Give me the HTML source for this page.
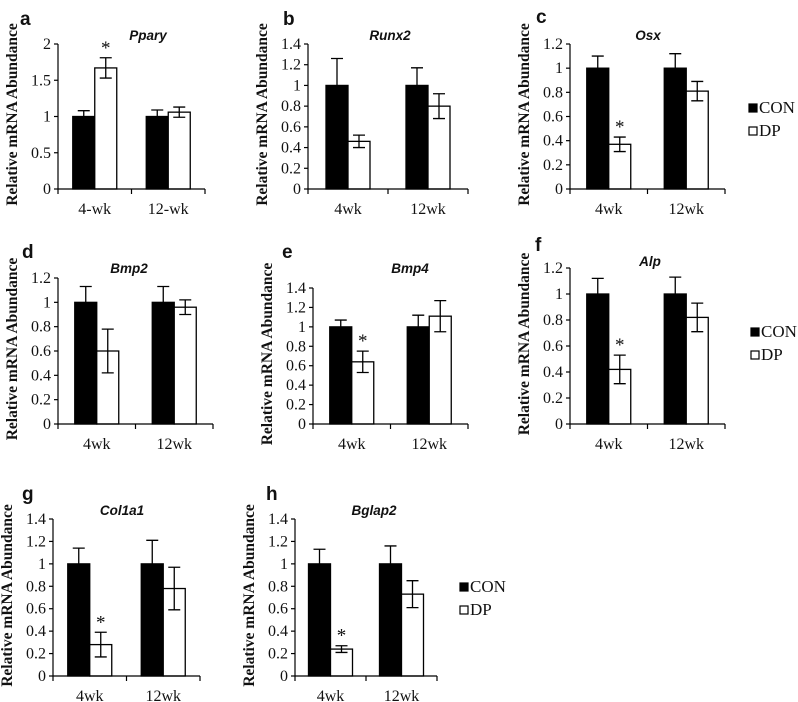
<!DOCTYPE html>
<html><head><meta charset="utf-8"><style>
body{margin:0;background:#fff;}
svg{display:block;}
.tk{font-family:"Liberation Serif",serif;font-size:16px;fill:#111;}
.st{font-family:"Liberation Serif",serif;font-size:19px;fill:#111;}
.yl{font-family:"Liberation Serif",serif;font-size:15.5px;font-weight:bold;fill:#111;}
.ti{font-family:"Liberation Sans",sans-serif;font-size:13.5px;font-weight:bold;font-style:italic;fill:#111;}
.pl{font-family:"Liberation Sans",sans-serif;font-size:19px;font-weight:bold;fill:#111;}
.lg{font-family:"Liberation Serif",serif;font-size:17px;fill:#111;}
</style></head><body>
<svg id="fig" width="798" height="702" viewBox="0 0 798 702" xmlns="http://www.w3.org/2000/svg"></svg>
<script>
const categories = ['4wk','12wk'];
const categoriesA = ['4-wk','12-wk'];
const pparyCon = [1.0, 1.0], pparyDp = [1.67, 1.06], pparyConErr = [0.08, 0.09], pparyDpErr = [0.14, 0.07];
const runx2Con = [1.0, 1.0], runx2Dp = [0.46, 0.80], runx2ConErr = [0.26, 0.17], runx2DpErr = [0.06, 0.12];
const osxCon = [1.0, 1.0], osxDp = [0.37, 0.81], osxConErr = [0.10, 0.12], osxDpErr = [0.06, 0.08];
const bmp2Con = [1.0, 1.0], bmp2Dp = [0.60, 0.96], bmp2ConErr = [0.13, 0.13], bmp2DpErr = [0.18, 0.06];
const bmp4Con = [1.0, 1.0], bmp4Dp = [0.64, 1.11], bmp4ConErr = [0.07, 0.12], bmp4DpErr = [0.11, 0.16];
const alpCon = [1.0, 1.0], alpDp = [0.42, 0.82], alpConErr = [0.12, 0.13], alpDpErr = [0.11, 0.11];
const col1a1Con = [1.0, 1.0], col1a1Dp = [0.28, 0.78], col1a1ConErr = [0.14, 0.21], col1a1DpErr = [0.11, 0.19];
const bglap2Con = [1.0, 1.0], bglap2Dp = [0.24, 0.73], bglap2ConErr = [0.13, 0.16], bglap2DpErr = [0.03, 0.12];
const ticksA = ['0','0.5','1','1.5','2'];
const ticks14 = ['0','0.2','0.4','0.6','0.8','1','1.2','1.4'];
const ticks12 = ['0','0.2','0.4','0.6','0.8','1','1.2'];
const legendLabels = ['CON','DP'];

const NS='http://www.w3.org/2000/svg';
const svg=document.getElementById('fig');
function mk(tag,attrs,parent){const e=document.createElementNS(NS,tag);for(const k in attrs)e.setAttribute(k,attrs[k]);(parent||svg).appendChild(e);return e;}

const panels=[
 {id:'a',gene:'Ppary',con:pparyCon,dp:pparyDp,ce:pparyConErr,de:pparyDpErr,cats:categoriesA,ticks:ticksA,max:2,x0:58,x1:205,y0:189,yt:44,lx:20,ly:25,tx:148,ty:40,star:[0]},
 {id:'b',gene:'Runx2',con:runx2Con,dp:runx2Dp,ce:runx2ConErr,de:runx2DpErr,cats:categories,ticks:ticks14,max:1.4,x0:308,x1:468,y0:189,yt:44,lx:283,ly:25,tx:390,ty:40,star:[]},
 {id:'c',gene:'Osx',con:osxCon,dp:osxDp,ce:osxConErr,de:osxDpErr,cats:categories,ticks:ticks12,max:1.2,x0:570,x1:725,y0:189,yt:44,lx:536,ly:23,tx:648,ty:40,star:[0]},
 {id:'d',gene:'Bmp2',con:bmp2Con,dp:bmp2Dp,ce:bmp2ConErr,de:bmp2DpErr,cats:categories,ticks:ticks12,max:1.2,x0:58,x1:213,y0:424,yt:278,lx:22,ly:258,tx:129,ty:273,star:[]},
 {id:'e',gene:'Bmp4',con:bmp4Con,dp:bmp4Dp,ce:bmp4ConErr,de:bmp4DpErr,cats:categories,ticks:ticks14,max:1.4,x0:313,x1:468,y0:424,yt:288,lx:282,ly:258,tx:410,ty:273,star:[0]},
 {id:'f',gene:'Alp',con:alpCon,dp:alpDp,ce:alpConErr,de:alpDpErr,cats:categories,ticks:ticks12,max:1.2,x0:570,x1:725,y0:424,yt:268,lx:535,ly:251,tx:650,ty:266,star:[0]},
 {id:'g',gene:'Col1a1',con:col1a1Con,dp:col1a1Dp,ce:col1a1ConErr,de:col1a1DpErr,cats:categories,ticks:ticks14,max:1.4,x0:53,x1:200,y0:676,yt:519,lx:22,ly:500,tx:122,ty:515,star:[0]},
 {id:'h',gene:'Bglap2',con:bglap2Con,dp:bglap2Dp,ce:bglap2ConErr,de:bglap2DpErr,cats:categories,ticks:ticks14,max:1.4,x0:295,x1:437,y0:676,yt:519,lx:266,ly:500,tx:374,ty:515,star:[0]}
];

panels.forEach(p=>{
 const g=mk('g',{});
 
 
 const ys=v=>p.y0-(v/p.max)*(p.y0-p.yt);
 const gw=(p.x1-p.x0)/p.cats.length;
 const bw=22;
 const L=mk('text',{x:p.lx,y:p.ly,class:'pl'},g);L.textContent=p.id;
 
 
 const T=mk('text',{x:p.tx,y:p.ty,class:'ti','text-anchor':'middle'},g);T.textContent=p.gene;
 
 
 const cy=(p.y0+p.yt)/2-2, cx=p.x0-41;
 const Y=mk('text',{x:cx,y:cy,class:'yl','text-anchor':'middle',transform:'rotate(-90 '+cx+' '+cy+')'},g);Y.textContent='Relative mRNA Abundance';
 
 
 p.cats.forEach((c,i)=>{
  const cxg=p.x0+gw*(i+0.5);
  [[p.con[i],p.ce[i],'#000',cxg-bw],[p.dp[i],p.de[i],'#fff',cxg]].forEach((s,k)=>{
   const r=mk('rect',{x:s[3],y:ys(s[0]),width:bw,height:p.y0-ys(s[0]),fill:s[2],stroke:'#000','stroke-width':1.3},g);
   
   
   const ex=s[3]+bw/2, yh=ys(s[0]+s[1]), yl=ys(s[0]-s[1]);
   const e=mk('path',{d:`M${ex},${yh}V${yl}M${ex-6},${yh}H${ex+6}M${ex-6},${yl}H${ex+6}`,stroke:'#000','stroke-width':1.3,fill:'none'},g);
   
   
   if(k===1 && p.star.includes(i)){
    const st=mk('text',{x:ex,y:yh-4,class:'st','text-anchor':'middle'},g);st.textContent='*';
    
    
   }
  });
  const cl=mk('text',{x:cxg,y:p.y0+25,class:'tk','text-anchor':'middle'},g);cl.textContent=c;
  
  
 });
 const ax=mk('path',{d:`M${p.x0},${p.yt}V${p.y0}H${p.x1}`,stroke:'#000','stroke-width':1.2,fill:'none'},g);
 
 
 for(let i=0;i<=p.cats.length;i++){
  const tx=p.x0+gw*i;
  mk('line',{x1:tx,x2:tx,y1:p.y0,y2:p.y0+5,stroke:'#000','stroke-width':1.2},g);
 }
 p.ticks.forEach(t=>{
  const yy=ys(parseFloat(t));
  mk('line',{x1:p.x0-4,x2:p.x0,y1:yy,y2:yy,stroke:'#000','stroke-width':1.2},g);
  const tl=mk('text',{x:p.x0-7,y:yy+5,class:'tk','text-anchor':'end'},g);tl.textContent=t;
  
  
 });
});

[[749,104],[751,328],[460,583]].forEach(pos=>{
 const g=mk('g',{});
 
 
 legendLabels.forEach((l,i)=>{
  const y=pos[1]+i*23;
  mk('rect',{x:pos[0],y:y,width:8,height:8,fill:i?'#fff':'#000',stroke:'#000','stroke-width':1.2},g);
  const t=mk('text',{x:pos[0]+10,y:y+9,class:'lg'},g);t.textContent=l;
  
  
 });
});
</script>
</body></html>
